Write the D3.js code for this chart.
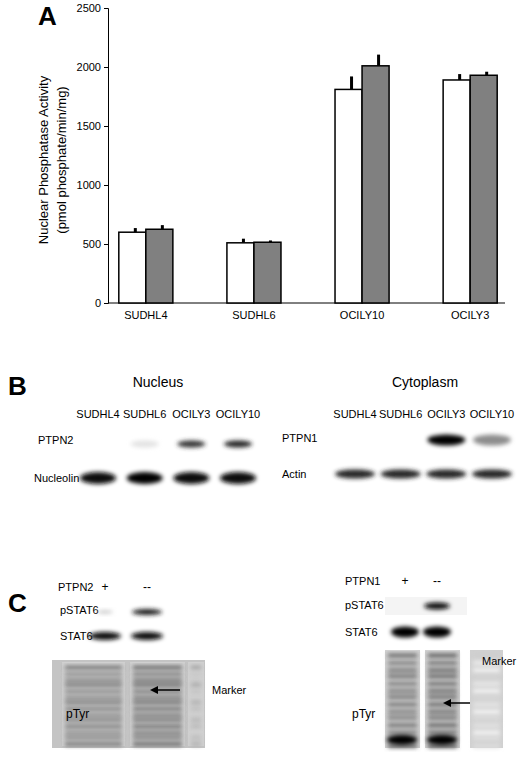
<!DOCTYPE html>
<html><head><meta charset="utf-8">
<script src="https://cdn.jsdelivr.net/npm/d3@7"></script>
<style>body{margin:0;background:#fff}text{font-family:"Liberation Sans Narrow","Liberation Sans",Arial,sans-serif}</style>
</head><body><svg id="c" width="520" height="760"></svg>
<script>
// panel A data
const cells = ["SUDHL4", "SUDHL6", "OCILY10", "OCILY3"];
const whiteVals = [600, 510, 1810, 1890];
const whiteErr = [35, 35, 110, 50];
const grayVals = [625, 515, 2010, 1930];
const grayErr = [35, 15, 95, 30];
const yTicks = [0, 500, 1000, 1500, 2000, 2500];

// blot band intensities (0..1)
const nucLanes = ["SUDHL4", "SUDHL6", "OCILY3", "OCILY10"];
const ptpn2 = [0, 0.05, 0.8, 0.85];
const nucleolin = [0.95, 1, 0.95, 0.95];
const cytLanes = ["SUDHL4", "SUDHL6", "OCILY3", "OCILY10"];
const ptpn1 = [0, 0, 1, 0.45];
const actin = [0.85, 0.85, 0.85, 0.85];
const cLeftP = [0.25, 0.9], cLeftS = [0.95, 0.95];
const cRightP = [0, 0.95], cRightS = [1, 1];

const svg = d3.select("#c");
const defs = svg.append("defs");
defs.append("filter").attr("id","blur").attr("x","-50%").attr("y","-100%").attr("width","200%").attr("height","300%")
  .append("feGaussianBlur").attr("stdDeviation", 2.2);

// Panel A
const x = d3.scaleBand().domain(cells).range([108, 508]).paddingInner(0.5).paddingOuter(0.1);
const y = d3.scaleLinear().domain([0, 2500]).range([303, 8]);
const gA = svg.append("g");
gA.append("g").attr("transform","translate(108,0)")
  .call(d3.axisLeft(y).tickValues(yTicks).tickSize(4).tickFormat(d3.format("d")))
  .call(g => g.selectAll("text").attr("font-size", 11).attr("font-family","Liberation Sans Narrow, Arial"));
gA.append("g").attr("transform","translate(0,303)")
  .call(d3.axisBottom(x).tickSize(0).tickPadding(8))
  .call(g => g.select(".domain").attr("d","M108,0H505"))
  .call(g => g.selectAll("text").attr("font-size", 11).attr("font-family","Liberation Sans Narrow, Arial"));
const bw = x.bandwidth() / 2;
[[whiteVals, whiteErr, "#fff", 0], [grayVals, grayErr, "#808080", 1]].forEach(([v, e, fill, k]) => {
  cells.forEach((c, i) => {
    const bx = x(c) + k * bw;
    gA.append("line").attr("x1", bx + bw/2 + 3).attr("x2", bx + bw/2 + 3)
      .attr("y1", y(v[i])).attr("y2", y(v[i] + e[i])).attr("stroke","#000").attr("stroke-width",3);
    gA.append("rect").attr("x", bx).attr("y", y(v[i])).attr("width", bw).attr("height", y(0) - y(v[i]))
      .attr("fill", fill).attr("stroke","#000").attr("stroke-width",1.5);
  });
});
gA.append("text").attr("transform","translate(48,160) rotate(-90)").attr("text-anchor","middle")
  .attr("font-size",13).text("Nuclear Phosphatase Activity");
gA.append("text").attr("transform","translate(66,160) rotate(-90)").attr("text-anchor","middle")
  .attr("font-size",13).text("(pmol phosphate/min/mg)");
const big = (t, px, py) => svg.append("text").attr("x", px).attr("y", py).attr("font-size", 26)
  .attr("font-family","Liberation Sans, Arial").attr("font-weight","bold").text(t);
big("A", 38, 25); big("B", 8, 395); big("C", 8, 612);

const lbl = (t, px, py, s = 11, a = "start") => svg.append("text").attr("x", px).attr("y", py)
  .attr("font-size", s).attr("text-anchor", a).text(t);
function band(cx, cy, w, h, v) {
  if (v <= 0) return;
  svg.append("ellipse").attr("cx", cx).attr("cy", cy).attr("rx", w/2).attr("ry", h/2)
    .attr("fill", d3.interpolateGreys(0.15 + 0.85 * v)).attr("filter","url(#blur)");
}

// Panel B
lbl("Nucleus", 158, 387, 14, "middle"); lbl("Cytoplasm", 425, 387, 14, "middle");
const xn = d3.scalePoint().domain(nucLanes).range([98, 238]);
const xc = d3.scalePoint().domain(cytLanes).range([355, 492]);
nucLanes.forEach((l, i) => { lbl(l, xn(l), 418, 11, "middle");
  band(xn(l), 444, 28, 7, ptpn2[i]); band(xn(l), 478, 36, 12, nucleolin[i]); });
cytLanes.forEach((l, i) => { lbl(l, xc(l), 418, 11, "middle");
  band(xc(l), 440, 38, 11, ptpn1[i]); band(xc(l), 474, 40, 9, actin[i]); });
lbl("PTPN2", 38, 444); lbl("Nucleolin", 34, 482); lbl("PTPN1", 282, 442); lbl("Actin", 282, 478);

// Panel C
lbl("PTPN2", 58, 591); lbl("+", 105, 591, 12, "middle"); lbl("--", 147, 591, 12, "middle");
lbl("pSTAT6", 60, 614); lbl("STAT6", 60, 640);
[105, 147].forEach((cx, i) => { band(cx, 612, i ? 30 : 16, i ? 6 : 3, cLeftP[i]); band(cx, 636, 32, 8, cLeftS[i]); });
lbl("PTPN1", 345, 585); lbl("+", 405, 585, 12, "middle"); lbl("--", 437, 585, 12, "middle");
lbl("pSTAT6", 345, 609); lbl("STAT6", 345, 636);
svg.append("rect").attr("x",385).attr("y",597).attr("width",82).attr("height",18).attr("fill","#f4f4f4");
[405, 437].forEach((cx, i) => { band(cx, 606, 26, 7, cRightP[i]); band(cx, 632, 28, 11, cRightS[i]); });

// pTyr smears
function smear(x0, x1, y0, y1, dark) {
  const g = svg.append("g");
  g.append("rect").attr("x", x0).attr("y", y0).attr("width", x1 - x0).attr("height", y1 - y0).attr("fill", "#d0d0d0");
  for (let k = 0; k < 14; k++) {
    const yy = y0 + 4 + k * (y1 - y0 - 8) / 13;
    g.append("rect").attr("x", x0 + 3).attr("y", yy).attr("width", x1 - x0 - 6).attr("height", 3 + (k % 3))
      .attr("fill", d3.interpolateGreys(dark - 0.2 * Math.abs(Math.sin(k)))).attr("filter","url(#blur)");
  }
}
svg.append("rect").attr("x",52).attr("y",660).attr("width",153).attr("height",88).attr("fill","#c4c4c4");
smear(62, 125, 662, 746, 0.7); smear(130, 185, 662, 746, 0.75); smear(188, 204, 662, 746, 0.5);
lbl("Marker", 212, 694); lbl("pTyr", 66, 718, 12);
smear(385, 420, 650, 748, 0.75); smear(425, 460, 650, 748, 0.8); smear(470, 503, 650, 748, 0.3);
band(402, 740, 30, 10, 1); band(442, 740, 30, 10, 1);
lbl("Marker", 482, 665); lbl("pTyr", 352, 718, 12);
const arr = (x1, y1, x2) => {
  svg.append("line").attr("x1", x1).attr("y1", y1).attr("x2", x2 + 6).attr("y2", y1).attr("stroke","#000").attr("stroke-width",1.5);
  svg.append("path").attr("d", `M${x2},${y1}l8,-4v8z`).attr("fill","#000");
};
arr(180, 690, 150); arr(470, 703, 443);
</script></body></html>
